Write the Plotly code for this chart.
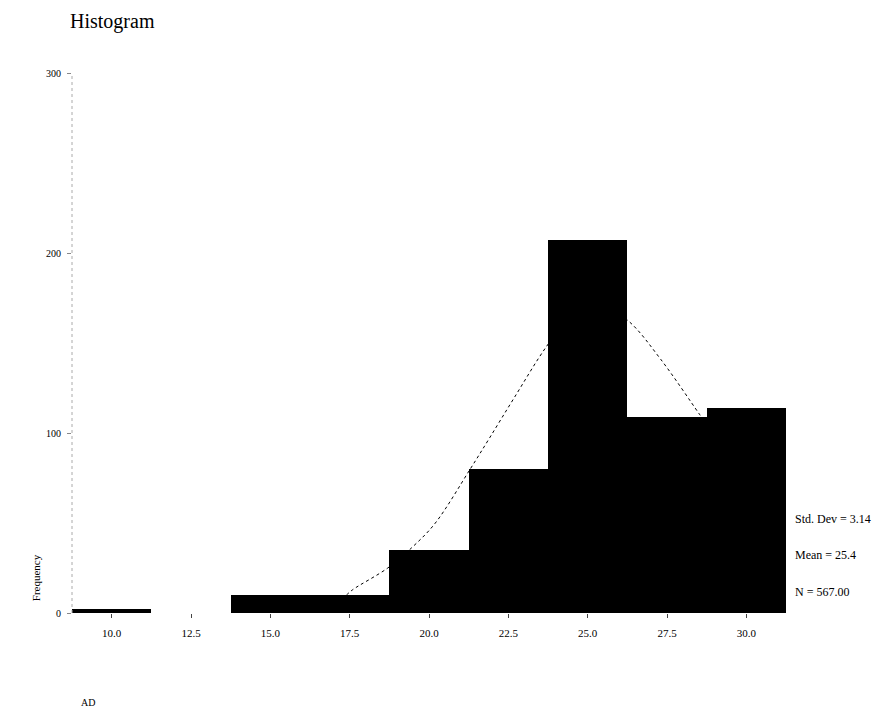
import plotly.graph_objects as go

# Data
bin_centers = [10.0, 12.5, 15.0, 17.5, 20.0, 22.5, 25.0, 27.5, 30.0]
counts = [2, 0, 10, 10, 35, 80, 207, 109, 114]
bin_width = 2.5

curve_x = [17.4, 17.6, 18.7, 19.5, 20.2, 21.3, 21.9, 22.7, 23.7, 24.6, 25.4, 26.3, 27.3, 28.5, 28.7]
curve_y = [10, 13, 25, 37, 50, 80, 97, 120, 148, 168, 172, 162, 141, 111, 106]

x_ticks = [10.0, 12.5, 15.0, 17.5, 20.0, 22.5, 25.0, 27.5, 30.0]
x_tick_text = ["10.0", "12.5", "15.0", "17.5", "20.0", "22.5", "25.0", "27.5", "30.0"]
y_ticks = [0, 100, 200, 300]
y_tick_text = ["0", "100", "200", "300"]

stats_text = ["Std. Dev = 3.14", "Mean = 25.4", "N = 567.00"]

FONT = "Liberation Serif"

fig = go.Figure()
fig.add_trace(go.Bar(
    x=bin_centers, y=counts, width=[bin_width] * len(bin_centers),
    marker=dict(color="black", line=dict(width=0)),
    showlegend=False,
))
fig.add_trace(go.Scatter(
    x=curve_x, y=curve_y, mode="lines",
    line=dict(color="black", width=1, dash="dot", shape="spline"),
    showlegend=False,
))

fig.update_layout(
    width=873, height=711,
    margin=dict(l=72, r=87, t=73, b=98),
    paper_bgcolor="white", plot_bgcolor="white",
    bargap=0,
    font=dict(family=FONT, color="black", size=11),
    title=dict(text="Histogram", x=70 / 873, xanchor="left", xref="container",
               y=1 - 14 / 711, yanchor="top", yref="container",
               font=dict(family=FONT, size=20, color="black")),
    xaxis=dict(range=[8.75, 31.25], tickvals=x_ticks, ticktext=x_tick_text,
               showgrid=False, zeroline=False, showline=False,
               ticks="outside", ticklen=4, tickcolor="#444",
               ticklabelstandoff=6,
               tickfont=dict(family=FONT, size=11, color="black")),
    yaxis=dict(range=[0, 300], tickvals=y_ticks, ticktext=y_tick_text,
               showgrid=False, zeroline=False, showline=False,
               ticks="outside", ticklen=4, tickcolor="#888",
               ticklabelstandoff=4,
               tickfont=dict(family=FONT, size=10, color="black")),
)

fig.add_shape(type="line", xref="paper", yref="paper", x0=0, x1=0, y0=0, y1=1,
              line=dict(color="#aaaaaa", width=1, dash="dot"))

fig.add_annotation(text="Frequency", xref="paper", yref="paper", x=-0.05, y=0.065,
                   textangle=-90, showarrow=False, xanchor="center", yanchor="middle",
                   font=dict(family=FONT, size=11, color="black"))
fig.add_annotation(text="AD", xref="paper", yref="paper", x=0.01, y=-0.165,
                   showarrow=False, xanchor="left", yanchor="middle",
                   font=dict(family=FONT, size=10, color="black"))

for i, t in enumerate(stats_text):
    fig.add_annotation(text=t, xref="paper", yref="paper", x=1.01, y=0.175 - i * 0.0685,
                       showarrow=False, xanchor="left", yanchor="middle",
                       font=dict(family=FONT, size=12, color="black"))

fig.write_html("out.html")
